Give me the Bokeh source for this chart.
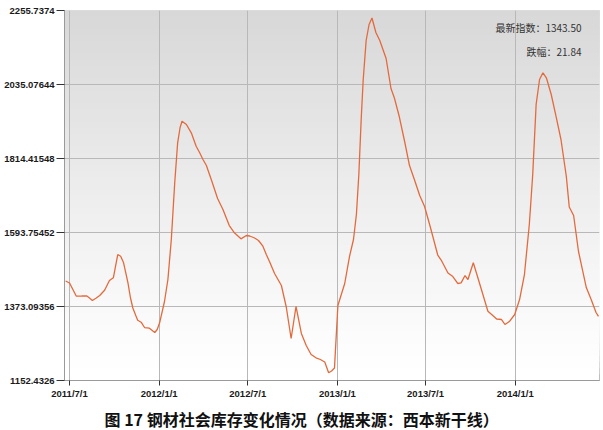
import pandas as pd
from bokeh.plotting import figure
from bokeh.models import Range1d, FixedTicker, BoxAnnotation, Label, Title
from bokeh.embed import file_html
from bokeh.resources import INLINE

# ---- data ----
base_date = pd.Timestamp("2011-07-01")
day_offsets = [
    -8, 0, 8, 14, 25, 35, 41, 47, 55, 62,
    72, 82, 90, 99, 105, 111, 120, 125, 130, 136,
    140, 147, 154, 164, 175, 180, 185, 195, 202, 209,
    216, 222, 227, 231, 240, 250, 260, 267, 274, 281,
    291, 304, 315, 328, 339, 352, 363, 370, 380, 388,
    397, 404, 411, 421, 435, 445, 455, 465, 476, 486,
    496, 506, 515, 524, 532, 538, 544, 551, 565, 575,
    583, 589, 594, 599, 603, 609, 615, 621, 629, 637,
    650, 660, 667, 677, 688, 698, 708, 719, 729, 741,
    756, 763, 777, 787, 797, 804, 812, 818, 829, 837,
    845, 859, 869, 877, 887, 894, 903, 914, 924, 934,
    944, 951, 958, 965, 972, 979, 989, 999, 1009, 1020,
    1026, 1035, 1045, 1061, 1071, 1081, 1086,
]
index_values = [
    1449.1, 1443.2, 1420.8, 1403.8, 1404.4, 1405.0, 1398.4, 1391.0, 1398.4, 1405.9,
    1421.7, 1450.6, 1458.7, 1528.1, 1523.1, 1503.4, 1443.7, 1399.9, 1368.6, 1346.2,
    1332.2, 1326.3, 1310.4, 1308.4, 1295.5, 1304.5, 1324.5, 1388.0, 1453.6, 1572.9,
    1741.9, 1861.2, 1906.8, 1925.6, 1915.8, 1891.0, 1851.1, 1832.3, 1811.4, 1793.5,
    1751.8, 1695.1, 1662.3, 1614.6, 1592.2, 1574.9, 1584.8, 1583.3, 1577.3, 1569.9,
    1552.9, 1528.1, 1505.8, 1471.5, 1435.7, 1371.6, 1277.6, 1373.1, 1292.6, 1256.8,
    1229.9, 1220.1, 1215.0, 1207.6, 1175.4, 1180.7, 1189.7, 1376.1, 1441.7, 1523.1,
    1572.9, 1647.4, 1766.7, 1936.7, 2050.0, 2166.3, 2214.0, 2233.4, 2190.1, 2166.3,
    2112.6, 2023.1, 1994.8, 1939.6, 1865.1, 1793.5, 1751.8, 1704.1, 1671.3, 1608.6,
    1526.6, 1511.7, 1473.0, 1462.5, 1441.7, 1443.7, 1465.5, 1453.6, 1503.4, 1465.5,
    1426.7, 1359.1, 1346.2, 1335.8, 1334.3, 1319.4, 1328.3, 1349.2, 1393.9, 1468.5,
    1617.6, 1766.7, 1975.4, 2050.0, 2070.0, 2055.1, 2005.3, 1939.6, 1871.1, 1760.7,
    1669.8, 1644.4, 1537.1, 1429.7, 1393.9, 1355.2, 1343.5,
]
x_tick_dates = ["2011-07-01", "2012-01-01", "2012-07-01", "2013-01-01", "2013-07-01", "2014-01-01"]
x_tick_labels = ["2011/7/1", "2012/1/1", "2012/7/1", "2013/1/1", "2013/7/1", "2014/1/1"]
y_ticks = [1152.4326, 1373.09356, 1593.75452, 1814.41548, 2035.07644, 2255.7374]
y_tick_labels = ["1152.4326", "1373.09356", "1593.75452", "1814.41548", "2035.07644", "2255.7374"]
latest_index = 1343.50
decline = 21.84
caption = "图 17  钢材社会库存变化情况（数据来源：西本新干线）"

dates = base_date + pd.to_timedelta(day_offsets, unit="D")

def ms(ts):
    return pd.Timestamp(ts).value / 1e6

x_start = base_date - pd.Timedelta(days=10.3)
x_end = base_date + pd.Timedelta(days=1088.1)

p = figure(
    width=603, height=437, margin=(-1, -15, -22, -1),
    x_axis_type="datetime",
    x_range=Range1d(x_start, x_end),
    y_range=Range1d(y_ticks[0], y_ticks[-1]),
    output_backend="svg", toolbar_location=None,
    min_border_left=65, min_border_right=3, min_border_top=11, min_border_bottom=56,
    background_fill_color="#ffffff", border_fill_color="#ffffff",
    outline_line_color="#a8a8a8",
)

# vertical gradient in the frame
n_bands = 60
span = y_ticks[-1] - y_ticks[0]
for i in range(n_bands):
    t = i / n_bands
    c = int(round(255 - 40 * t ** 1.15))
    p.add_layout(BoxAnnotation(bottom=y_ticks[0] + span * t,
                               fill_color=f"#{c:02x}{c:02x}{c:02x}", fill_alpha=1,
                               line_alpha=0, level="image"))

p.line(dates, index_values, line_color="#e36a3c", line_width=1.3)

# axes
x_ms = [ms(d) for d in x_tick_dates]
p.xaxis.ticker = FixedTicker(ticks=x_ms)
p.xaxis.major_label_overrides = {k: v for k, v in zip(x_ms, x_tick_labels)}
p.yaxis.ticker = FixedTicker(ticks=y_ticks)
p.yaxis.major_label_overrides = {k: v for k, v in zip(y_ticks, y_tick_labels)}

for ax in (p.xaxis, p.yaxis):
    ax.major_label_text_font = "Liberation Sans"
    ax.major_label_text_font_style = "bold"
    ax.major_label_text_font_size = "9.5px"
    ax.major_label_text_color = "#1a1a1a"
    ax.axis_line_color = "#9a9a9a"
    ax.major_tick_line_color = "#333333"
    ax.major_tick_in = 0
    ax.minor_tick_line_color = None
p.yaxis.major_tick_out = 8
p.yaxis.major_label_standoff = 2
p.xaxis.major_tick_out = 5
p.xaxis.major_label_standoff = 2

p.xgrid.grid_line_color = "#b8b8b8"
p.ygrid.grid_line_color = "#b8b8b8"
p.xgrid.level = "underlay"
p.ygrid.level = "underlay"

# annotation top-right
p.add_layout(Label(x=ms(x_end), y=y_ticks[-1], x_offset=-18, y_offset=-17,
                   text=f"最新指数：{latest_index:.2f}", text_align="right",
                   text_baseline="middle", text_font="Noto Sans CJK SC",
                   text_font_size="10px", text_color="#333333"))
p.add_layout(Label(x=ms(x_end), y=y_ticks[-1], x_offset=-18, y_offset=-41,
                   text=f"跌幅：{decline:.2f}", text_align="right",
                   text_baseline="middle", text_font="Noto Sans CJK SC",
                   text_font_size="10px", text_color="#333333"))

p.add_layout(Title(text=caption, align="left", offset=40,
                   text_font="Noto Sans CJK SC", text_font_size="16px",
                   text_font_style="bold", text_color="#111111", standoff=6), "below")

open("out.html", "w").write(file_html(p, INLINE))
